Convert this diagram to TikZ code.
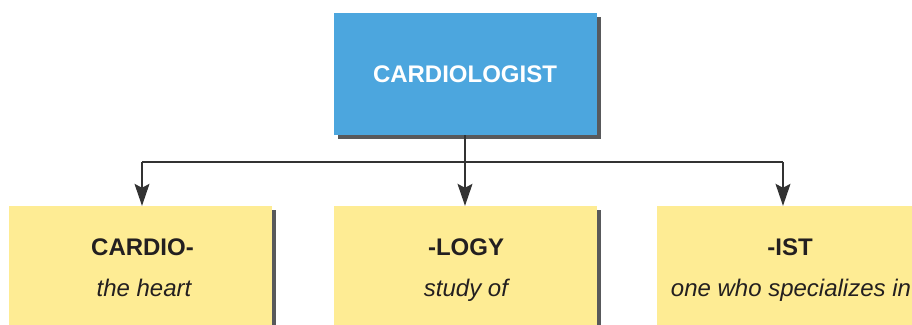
\documentclass[tikz,border=0pt]{standalone}
\usepackage{fontspec}
\setmainfont{Liberation Sans}
\usetikzlibrary{arrows.meta,shadows}
\definecolor{boxblue}{HTML}{4CA6DE}
\definecolor{boxyellow}{HTML}{FEEC94}
\definecolor{shadowgray}{HTML}{58595B}
\definecolor{inkdark}{HTML}{231F20}
\definecolor{linegray}{HTML}{333333}
\tikzset{
  basebox/.style={rectangle, minimum width=263pt, inner sep=0pt,
    drop shadow={shadow xshift=4pt, shadow yshift=-4pt, fill=shadowgray, opacity=1}},
  topbox/.style={basebox, fill=boxblue, minimum height=122pt, text=white,
    font=\fontsize{24}{28}\selectfont\bfseries},
  leafbox/.style={basebox, fill=boxyellow, minimum height=134pt},
  headtxt/.style={anchor=base, text=inkdark, inner sep=0pt, font=\fontsize{24}{28}\selectfont\bfseries},
  subtxt/.style={anchor=base, text=inkdark, inner sep=0pt, font=\fontsize{24}{28}\selectfont\itshape},
  conn/.style={draw=linegray, line width=1.1pt},
  arr/.style={conn, -{Stealth[length=22pt, width=15pt, inset=4pt]}}
}
\begin{document}
\begin{tikzpicture}[x=1pt,y=-1pt]
\useasboundingbox (0,0) rectangle (912,324);
\clip (0,0) rectangle (912,324);
\node[topbox] (top) at (465,74) {CARDIOLOGIST};
\node[leafbox] (left) at (140.5,273) {};
\node[leafbox] (mid) at (465,273) {};
\node[leafbox] (right) at (788.5,273) {};
\node[headtxt] (lefth) at (142.5,255) {CARDIO-};
\node[subtxt] (lefts) at (144,296) {the heart};
\node[headtxt] (midh) at (466,255) {-LOGY};
\node[subtxt] (mids) at (466,296) {study of};
\node[headtxt] (righth) at (790,255) {-IST};
\node[subtxt] (rights) at (791,296) {one who specializes in};
\coordinate (hl) at (142,162);
\coordinate (hr) at (783,162);
\draw[conn] (hl) -- (hr);
\draw[arr] (top.south) -- (mid.north);
\draw[arr] (hl) -- (hl |- left.north);
\draw[arr] (hr) -- (hr |- right.north);
\end{tikzpicture}
\end{document}
